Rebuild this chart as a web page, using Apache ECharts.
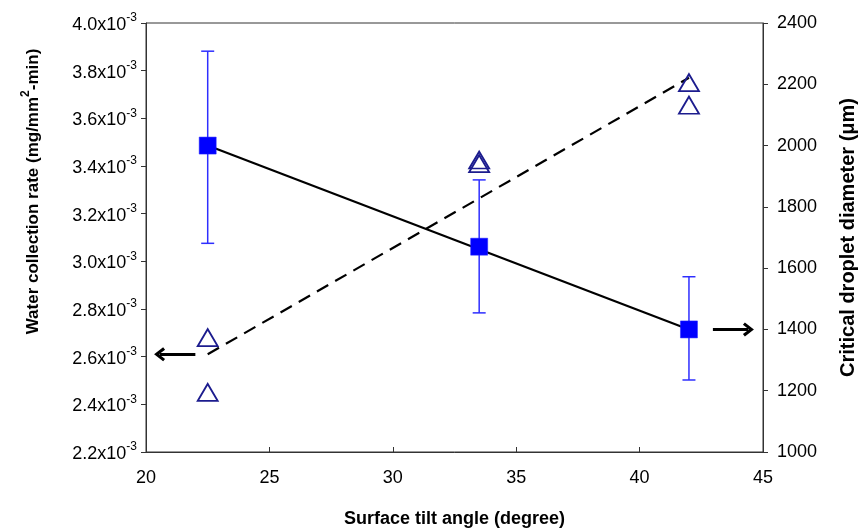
<!DOCTYPE html>
<html>
<head>
<meta charset="utf-8">
<script src="https://cdn.jsdelivr.net/npm/echarts@6/dist/echarts.min.js"></script>
<style>
html,body{margin:0;padding:0;background:#fff;}
#chart{width:860px;height:529px;}
</style>
</head>
<body>
<div id="chart"></div>
<script>
// Surface tilt angle (degree)
const tiltAngles = [22.5, 33.5, 42];
// Water collection rate (units of 10^-3 mg/mm^2-min), two replicates per angle (triangles)
const rateX = [22.5, 22.5, 33.5, 33.5, 42, 42];
const rateE3 = [2.68, 2.45, 3.425, 3.41, 3.75, 3.655];
// Dashed trend line for water collection rate (endpoints)
const rateFitX = [22.5, 42];
const rateFitE3 = [2.61, 3.77];
// Critical droplet diameter (µm) with error bars (squares)
const diameter = [2000, 1670, 1400];
const diameterLow = [1681, 1454, 1235];
const diameterHigh = [2308, 1888, 1572];
// Solid trend line for diameter (endpoints)
const diamFitX = [22.5, 42];
const diamFit = [2000, 1400];
// Annotation arrows: [x from, x to, y]
const arrowLeft = [22.0, 20.55, 2.61];   // points to left axis
const arrowRight = [42.97, 44.41, 1400]; // points to right axis
// Axis ticks
const xTicks = {min: 20, max: 45, interval: 5};
const leftTicks = {min: 2.2, max: 4.0, interval: 0.2};
const rightTicks = {min: 1000, max: 2400, interval: 200};

const FONT = '"Liberation Sans", Arial, sans-serif';
const chevron = 'path://M0,7 L5,0 L10,7 L8.3,8.5 L5,3.8 L1.7,8.5 Z';

const chart = echarts.init(document.getElementById('chart'), null, {renderer: 'canvas'});

const option = {
  animation: false,
  backgroundColor: '#fff',
  grid: {left: 146, right: 97, top: 23, bottom: 77, containLabel: false, outerBoundsMode: 'none',
         show: true, borderColor: '#333', borderWidth: 1},
  xAxis: {
    type: 'value', min: xTicks.min, max: xTicks.max, interval: xTicks.interval,
    name: 'Surface tilt angle (degree)', nameLocation: 'middle', nameGap: 58,
    nameTextStyle: {fontFamily: FONT, fontSize: 18, fontWeight: 'bold', color: '#000'},
    axisLine: {lineStyle: {color: '#333', width: 1}},
    axisTick: {inside: true, length: 5, lineStyle: {color: '#333'}},
    axisLabel: {fontFamily: FONT, fontSize: 18, color: '#000', margin: 17},
    splitLine: {show: false}
  },
  yAxis: [
    {
      type: 'value', position: 'left', min: leftTicks.min, max: leftTicks.max, interval: leftTicks.interval,
      name: '{b|Water collection rate (mg/mm}{s|2}{b|-min)}', nameLocation: 'middle', nameGap: 104, nameRotate: 90,
      nameTextStyle: {
        padding: [0, 0, 0, 92],
        rich: {
          b: {fontFamily: FONT, fontSize: 17, fontWeight: 'bold', color: '#000', lineHeight: 22, verticalAlign: 'bottom'},
          s: {fontFamily: FONT, fontSize: 12, fontWeight: 'bold', color: '#000', lineHeight: 12, verticalAlign: 'top'}
        }
      },
      axisLine: {show: true, lineStyle: {color: '#333', width: 1}},
      axisTick: {show: true, inside: false, length: 5, lineStyle: {color: '#333'}},
      axisLabel: {
        margin: 9,
        formatter: v => '{a|' + v.toFixed(1) + 'x10}{s|-3}',
        rich: {
          a: {fontFamily: FONT, fontSize: 18, color: '#000', lineHeight: 22, verticalAlign: 'bottom'},
          s: {fontFamily: FONT, fontSize: 12, color: '#000', lineHeight: 12, verticalAlign: 'top'}
        }
      },
      splitLine: {show: false}
    },
    {
      type: 'value', position: 'right', min: rightTicks.min, max: rightTicks.max, interval: rightTicks.interval,
      name: 'Critical droplet diameter (μm)', nameLocation: 'middle', nameGap: 75, nameRotate: 90,
      nameTextStyle: {fontFamily: FONT, fontSize: 20, fontWeight: 'bold', color: '#000'},
      axisLine: {show: true, lineStyle: {color: '#333', width: 1}},
      axisTick: {show: true, inside: false, length: 5, lineStyle: {color: '#333'}},
      axisLabel: {fontFamily: FONT, fontSize: 18, color: '#000', margin: 14, formatter: v => String(v)},
      splitLine: {show: false}
    }
  ],
  series: [
    {
      name: 'rate', type: 'scatter', yAxisIndex: 0,
      data: rateX.map((x, i) => [x, rateE3[i]]),
      symbol: 'triangle', symbolSize: [20, 17],
      itemStyle: {color: 'rgba(0,0,0,0)', borderColor: '#1c1c8e', borderWidth: 1.8, opacity: 1},
      z: 4
    },
    {
      name: 'rateFit', type: 'line', yAxisIndex: 0,
      data: rateFitX.map((x, i) => [x, rateFitE3[i]]),
      showSymbol: false, symbol: 'none',
      lineStyle: {color: '#000', width: 2.2, type: [13, 8]},
      z: 3,
      markLine: {
        silent: true, symbol: ['none', chevron], symbolSize: [14, 11],
        lineStyle: {color: '#000', width: 3, type: 'solid'},
        label: {show: false},
        data: [[{coord: [arrowLeft[0], arrowLeft[2]]}, {coord: [arrowLeft[1], arrowLeft[2]]}]]
      }
    },
    {
      name: 'diamFit', type: 'line', yAxisIndex: 1,
      data: diamFitX.map((x, i) => [x, diamFit[i]]),
      showSymbol: false, symbol: 'none',
      lineStyle: {color: '#000', width: 2.2},
      z: 5,
      markLine: {
        silent: true, symbol: ['none', chevron], symbolSize: [14, 11],
        lineStyle: {color: '#000', width: 3, type: 'solid'},
        label: {show: false},
        data: [[{coord: [arrowRight[0], arrowRight[2]]}, {coord: [arrowRight[1], arrowRight[2]]}]]
      }
    },
    {
      name: 'errors', type: 'custom', yAxisIndex: 1,
      data: tiltAngles.map((x, i) => [x, diameterLow[i], diameterHigh[i]]),
      encode: {x: 0, y: [1, 2]},
      renderItem: function (params, api) {
        const lo = api.coord([api.value(0), api.value(1)]);
        const hi = api.coord([api.value(0), api.value(2)]);
        const hw = 6.5;
        const style = {stroke: '#2e2eff', lineWidth: 1.5, fill: null};
        return {
          type: 'group',
          children: [
            {type: 'line', shape: {x1: lo[0], y1: lo[1], x2: hi[0], y2: hi[1]}, style: style},
            {type: 'line', shape: {x1: lo[0] - hw, y1: lo[1], x2: lo[0] + hw, y2: lo[1]}, style: style},
            {type: 'line', shape: {x1: hi[0] - hw, y1: hi[1], x2: hi[0] + hw, y2: hi[1]}, style: style}
          ]
        };
      },
      z: 4
    },
    {
      name: 'diameter', type: 'scatter', yAxisIndex: 1,
      data: tiltAngles.map((x, i) => [x, diameter[i]]),
      symbol: 'rect', symbolSize: 17,
      itemStyle: {color: '#0000ff', borderColor: '#2020ff', borderWidth: 0.5, opacity: 1},
      z: 6
    }
  ]
};
chart.setOption(option);
</script>
</body>
</html>
